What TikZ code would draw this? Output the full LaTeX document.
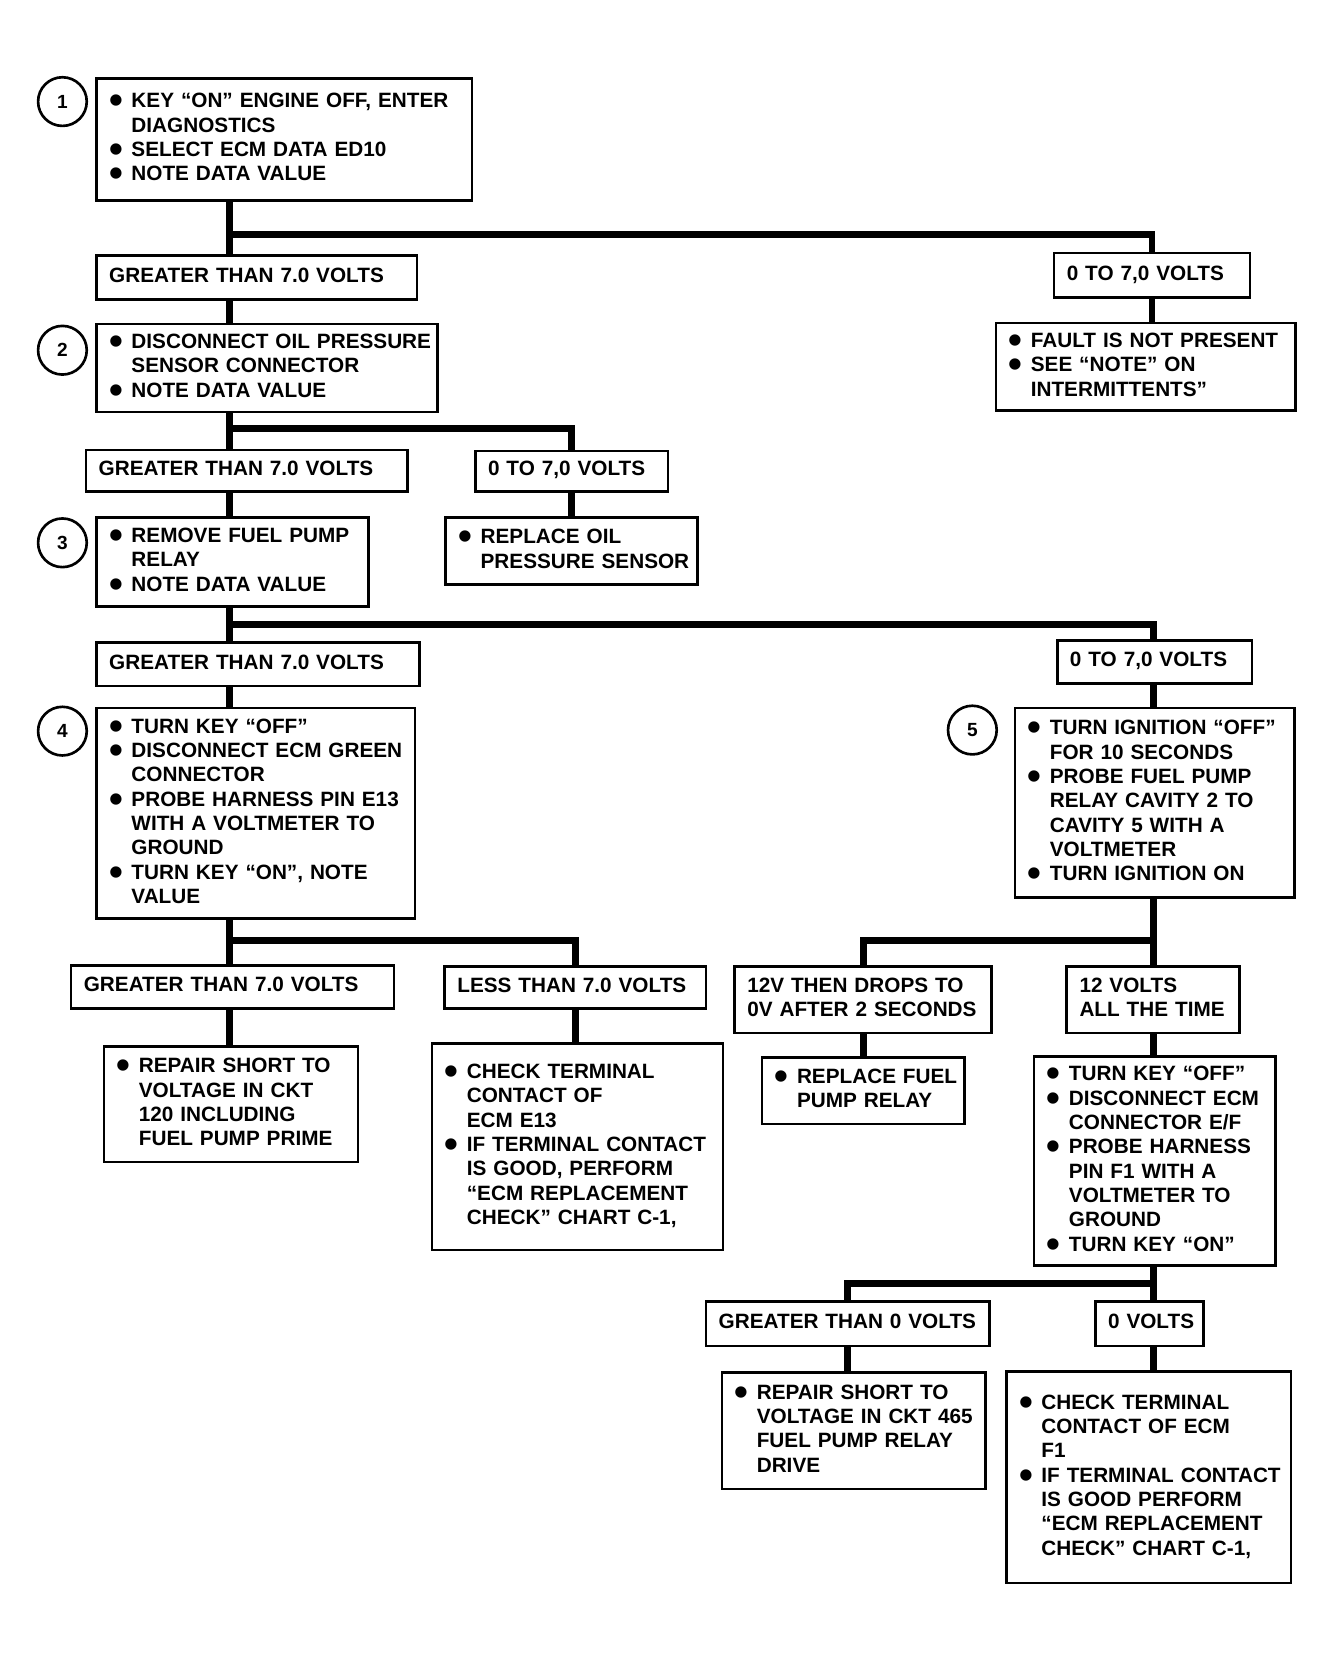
\documentclass[tikz,border=0pt]{standalone}
\usepackage{fontspec}
\setmainfont{Liberation Sans}
\usepackage{graphicx}
\usetikzlibrary{positioning}
\newcommand{\bul}{\makebox[21pt][l]{\smash{\raisebox{-0.3em}{\scalebox{1.9}{\textbullet}}}}}
\newcommand{\hng}{\hspace*{21pt}}
\newcommand{\blk}[1]{\noindent\begin{tabular}{@{}l@{}}#1\end{tabular}}

\begin{document}
\begin{tikzpicture}
   [x=1pt,y=1pt,
    act/.style={draw,line width=2.5pt,anchor=north west,inner xsep=12pt,inner ysep=2pt,
      align=left,font=\fontsize{19.6}{23}\selectfont\bfseries},
    num/.style={circle,draw,line width=2.5pt,minimum size=46pt,inner sep=0pt,
      font=\fontsize{18}{18}\selectfont\bfseries},
    link/.style={line width=6.5pt}]

\useasboundingbox (0,0) rectangle (1259,-1567);

\node [num] (n1) at (59,-96) {1};
\node [act,text width=331pt,minimum height=115pt] (s1) at (90,-73) {\blk{\bul KEY ``ON'' ENGINE OFF, ENTER\\ \hng DIAGNOSTICS\\ \bul SELECT ECM DATA ED10\\ \bul NOTE DATA VALUE}};
\node [act,text width=279pt,minimum height=42pt] (g1) at (90,-240) {\blk{GREATER THAN 7.0 VOLTS}};
\node [act,text width=161pt,minimum height=42pt] (z1) at (995,-238) {\blk{0 TO 7,0 VOLTS}};
\node [act,text width=259pt,minimum height=83pt] (f1) at (940,-304) {\blk{\bul FAULT IS NOT PRESENT\\ \bul SEE ``NOTE'' ON\\ \hng INTERMITTENTS''}};

\node [num] (n2) at (59,-331) {2};
\node [act,text width=298pt,minimum height=83pt] (s2) at (90,-305) {\blk{\bul DISCONNECT OIL PRESSURE\\ \hng SENSOR CONNECTOR\\ \bul NOTE DATA VALUE}};
\node [act,text width=280pt,minimum height=39pt] (g2) at (80,-424) {\blk{GREATER THAN 7.0 VOLTS}};
\node [act,text width=158pt,minimum height=38pt] (z2) at (448,-425) {\blk{0 TO 7,0 VOLTS}};
\node [act,text width=214pt,minimum height=63pt] (r1) at (420,-488) {\blk{\bul REPLACE OIL\\ \hng PRESSURE SENSOR}};

\node [num] (n3) at (59,-513) {3};
\node [act,text width=233pt,minimum height=84pt] (s3) at (90,-488) {\blk{\bul REMOVE FUEL PUMP\\ \hng RELAY\\ \bul NOTE DATA VALUE}};
\node [act,text width=281pt,minimum height=41pt] (g3) at (90,-606) {\blk{GREATER THAN 7.0 VOLTS}};
\node [act,text width=160pt,minimum height=41pt] (z3) at (998,-604) {\blk{0 TO 7,0 VOLTS}};

\node [num] (n4) at (59,-691) {4};
\node [act,text width=277pt,minimum height=199pt] (s4) at (90,-668) {\blk{\bul TURN KEY ``OFF''\\ \bul DISCONNECT ECM GREEN\\ \hng CONNECTOR\\ \bul PROBE HARNESS PIN E13\\ \hng WITH A VOLTMETER TO\\ \hng GROUND\\ \bul TURN KEY ``ON'', NOTE\\ \hng VALUE}};
\node [num] (n5) at (919,-690) {5};
\node [act,text width=240pt,minimum height=179pt] (s5) at (958,-668) {\blk{\bul TURN IGNITION ``OFF''\\ \hng FOR 10 SECONDS\\ \bul PROBE FUEL PUMP\\ \hng RELAY CAVITY 2 TO\\ \hng CAVITY 5 WITH A\\ \hng VOLTMETER\\ \bul TURN IGNITION ON}};

\node [act,text width=281pt,minimum height=41pt] (g4) at (66,-911) {\blk{GREATER THAN 7.0 VOLTS}};
\node [act,text width=223pt,minimum height=40pt] (l4) at (419,-912) {\blk{LESS THAN 7.0 VOLTS}};
\node [act,text width=216pt,minimum height=109pt] (r2) at (97,-988) {\blk{\bul REPAIR SHORT TO\\ \hng VOLTAGE IN CKT\\ \hng 120 INCLUDING\\ \hng FUEL PUMP PRIME}};
\node [act,text width=251pt,minimum height=195pt] (c1) at (407,-985) {\blk{\bul CHECK TERMINAL\\ \hng CONTACT OF\\ \hng ECM E13\\ \bul IF TERMINAL CONTACT\\ \hng IS GOOD, PERFORM\\ \hng ``ECM REPLACEMENT\\ \hng CHECK'' CHART C-1,}};

\node [act,text width=219pt,minimum height=63pt] (t1) at (693,-912) {\blk{12V THEN DROPS TO\\ 0V AFTER 2 SECONDS}};
\node [act,text width=139pt,minimum height=63pt] (t2) at (1007,-912) {\blk{12 VOLTS\\ ALL THE TIME}};
\node [act,text width=167pt,minimum height=63pt] (r3) at (719,-998) {\blk{\bul REPLACE FUEL\\ \hng PUMP RELAY}};
\node [act,text width=204pt,minimum height=198pt] (s6) at (976,-997) {\blk{\bul TURN KEY ``OFF''\\ \bul DISCONNECT ECM\\ \hng CONNECTOR E/F\\ \bul PROBE HARNESS\\ \hng PIN F1 WITH A\\ \hng VOLTMETER TO\\ \hng GROUND\\ \bul TURN KEY ``ON''}};

\node [act,text width=244pt,minimum height=42pt] (g5) at (666,-1229) {\blk{GREATER THAN 0 VOLTS}};
\node [act,text width=78pt,minimum height=42pt] (z5) at (1034,-1229) {\blk{0 VOLTS}};
\node [act,text width=225pt,minimum height=110pt] (r4) at (681,-1296) {\blk{\bul REPAIR SHORT TO\\ \hng VOLTAGE IN CKT 465\\ \hng FUEL PUMP RELAY\\ \hng DRIVE}};
\node [act,text width=245pt,minimum height=200pt] (c2) at (950,-1295) {\blk{\bul CHECK TERMINAL\\ \hng CONTACT OF ECM\\ \hng F1\\ \bul IF TERMINAL CONTACT\\ \hng IS GOOD PERFORM\\ \hng ``ECM REPLACEMENT\\ \hng CHECK'' CHART C-1,}};

\coordinate (lc) at (217,0);
\coordinate (rc) at (1090,0);
\coordinate (b1) at (217,-222);
\coordinate (b2) at (217,-405);
\coordinate (b3) at (217,-590);
\coordinate (b4) at (217,-889);
\coordinate (b5) at (1090,-889);
\coordinate (b6) at (1090,-1213);

\draw [link] (s1.south -| lc) -- (g1.north -| lc);
\draw [link] (b1) -| (z1.north);
\draw [link] (z1.south) -- (z1.south |- f1.north);
\draw [link] (g1.south -| lc) -- (s2.north -| lc);
\draw [link] (s2.south -| lc) -- (g2.north -| lc);
\draw [link] (b2) -| (z2.north);
\draw [link] (z2.south) -- (z2.south |- r1.north);
\draw [link] (g2.south -| lc) -- (s3.north -| lc);
\draw [link] (s3.south -| lc) -- (g3.north -| lc);
\draw [link] (b3) -| (z3.north -| rc);
\draw [link] (g3.south -| lc) -- (s4.north -| lc);
\draw [link] (z3.south -| rc) -- (s5.north -| rc);
\draw [link] (s4.south -| lc) -- (g4.north -| lc);
\draw [link] (b4) -| (l4.north);
\draw [link] (g4.south -| lc) -- (r2.north -| lc);
\draw [link] (l4.south) -- (l4.south |- c1.north);
\draw [link] (s5.south -| rc) -- (t2.north -| rc);
\draw [link] (b5) -| (t1.north);
\draw [link] (t1.south) -- (t1.south |- r3.north);
\draw [link] (t2.south -| rc) -- (s6.north -| rc);
\draw [link] (s6.south -| rc) -- (z5.north -| rc);
\draw [link] (b6) -| (g5.north);
\draw [link] (g5.south) -- (g5.south |- r4.north);
\draw [link] (z5.south -| rc) -- (c2.north -| rc);
\end{tikzpicture}
\end{document}
